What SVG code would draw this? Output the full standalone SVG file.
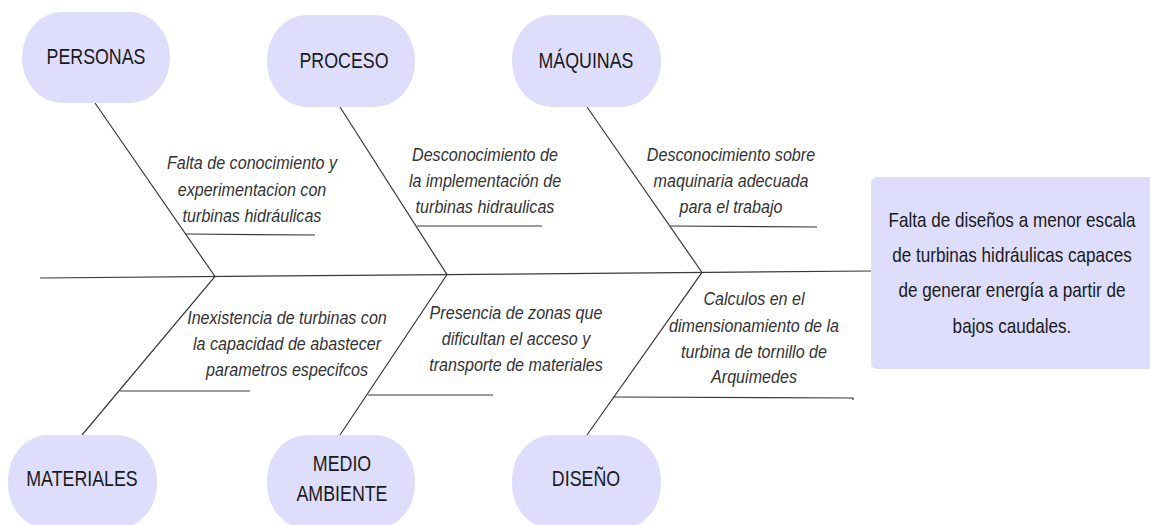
<svg xmlns="http://www.w3.org/2000/svg" width="1150" height="525" viewBox="0 0 1150 525">
<style>
.cat{fill:#dedefc;stroke:none}
.t{font-family:"Liberation Sans",Arial,sans-serif;fill:#1a1a1a;text-anchor:middle}
.h{font-size:22px}
.c{font-size:18px;font-style:italic;fill:#333}
.e{font-size:20px}
.ln{stroke:#3a3a3a;stroke-width:1.2;fill:none}
</style>
<rect width="1150" height="525" fill="#ffffff"/>
<g id="connectors">
<path class="ln" d="M40,278 L871,271"/>
<path class="ln" d="M95,103 L215,276.5 L82,435"/>
<path class="ln" d="M340,107 L447,274.6 L340,435"/>
<path class="ln" d="M587,107 L702,272.4 L587,435"/>
<path class="ln" d="M185,234 L315,235"/>
<path class="ln" d="M417,226 L542,226"/>
<path class="ln" d="M670,226 L817,227"/>
<path class="ln" d="M120,391 L250,391"/>
<path class="ln" d="M368,395 L493,395"/>
<path class="ln" d="M613,397 L853,398 L853,400"/>
</g>
<g id="personas">
<rect class="cat" x="22" y="12" width="148" height="91" rx="40" ry="45"/>
<text class="t h" transform="matrix(0.81,0,0,1,96,0)" x="0" y="64">PERSONAS</text>
</g>
<g id="proceso">
<rect class="cat" x="267" y="15" width="148" height="92" rx="40" ry="45"/>
<text class="t h" transform="matrix(0.81,0,0,1,344,0)" x="0" y="68">PROCESO</text>
</g>
<g id="maquinas">
<rect class="cat" x="512" y="15" width="149" height="92" rx="40" ry="45"/>
<text class="t h" transform="matrix(0.81,0,0,1,586,0)" x="0" y="68">MÁQUINAS</text>
</g>
<g id="materiales">
<rect class="cat" x="8" y="435" width="149" height="94" rx="40" ry="45"/>
<text class="t h" transform="matrix(0.81,0,0,1,82,0)" x="0" y="486">MATERIALES</text>
</g>
<g id="medio-ambiente">
<rect class="cat" x="267" y="435" width="148" height="94" rx="40" ry="45"/>
<text class="t h" transform="matrix(0.81,0,0,1,342,0)" x="0" y="471">MEDIO</text>
<text class="t h" transform="matrix(0.81,0,0,1,342,0)" x="0" y="501">AMBIENTE</text>
</g>
<g id="diseno">
<rect class="cat" x="512" y="435" width="149" height="94" rx="40" ry="45"/>
<text class="t h" transform="matrix(0.81,0,0,1,586,0)" x="0" y="486">DISEÑO</text>
</g>
<g id="efecto">
<rect class="cat" x="871" y="177" width="285" height="192" rx="6" ry="6"/>
<g transform="matrix(0.855,0,0,1,1012,0)">
<text class="t e" x="0" y="227">Falta de diseños a menor escala</text>
<text class="t e" x="0" y="262">de turbinas hidráulicas capaces</text>
<text class="t e" x="0" y="297">de generar energía a partir de</text>
<text class="t e" x="0" y="333">bajos caudales.</text>
</g>
</g>
<g id="causa-personas" transform="matrix(0.895,0,0,1,252,0)">
<text class="t c" x="0" y="169">Falta de conocimiento y</text>
<text class="t c" x="0" y="196">experimentacion con</text>
<text class="t c" x="0" y="222">turbinas hidráulicas</text>
</g>
<g id="causa-proceso" transform="matrix(0.895,0,0,1,485,0)">
<text class="t c" x="0" y="161">Desconocimiento de</text>
<text class="t c" x="0" y="187">la implementación de</text>
<text class="t c" x="0" y="213">turbinas hidraulicas</text>
</g>
<g id="causa-maquinas" transform="matrix(0.895,0,0,1,731,0)">
<text class="t c" x="0" y="161">Desconocimiento sobre</text>
<text class="t c" x="0" y="187">maquinaria adecuada</text>
<text class="t c" x="0" y="213">para el trabajo</text>
</g>
<g id="causa-materiales" transform="matrix(0.895,0,0,1,287,0)">
<text class="t c" x="0" y="324">Inexistencia de turbinas con</text>
<text class="t c" x="0" y="350">la capacidad de abastecer</text>
<text class="t c" x="0" y="376">parametros especifcos</text>
</g>
<g id="causa-medio" transform="matrix(0.895,0,0,1,516,0)">
<text class="t c" x="0" y="319">Presencia de zonas que</text>
<text class="t c" x="0" y="345">dificultan el acceso y</text>
<text class="t c" x="0" y="371">transporte de materiales</text>
</g>
<g id="causa-diseno" transform="matrix(0.895,0,0,1,754,0)">
<text class="t c" x="0" y="305">Calculos en el</text>
<text class="t c" x="0" y="332">dimensionamiento de la</text>
<text class="t c" x="0" y="358">turbina de tornillo de</text>
<text class="t c" x="0" y="383">Arquimedes</text>
</g>
</svg>
